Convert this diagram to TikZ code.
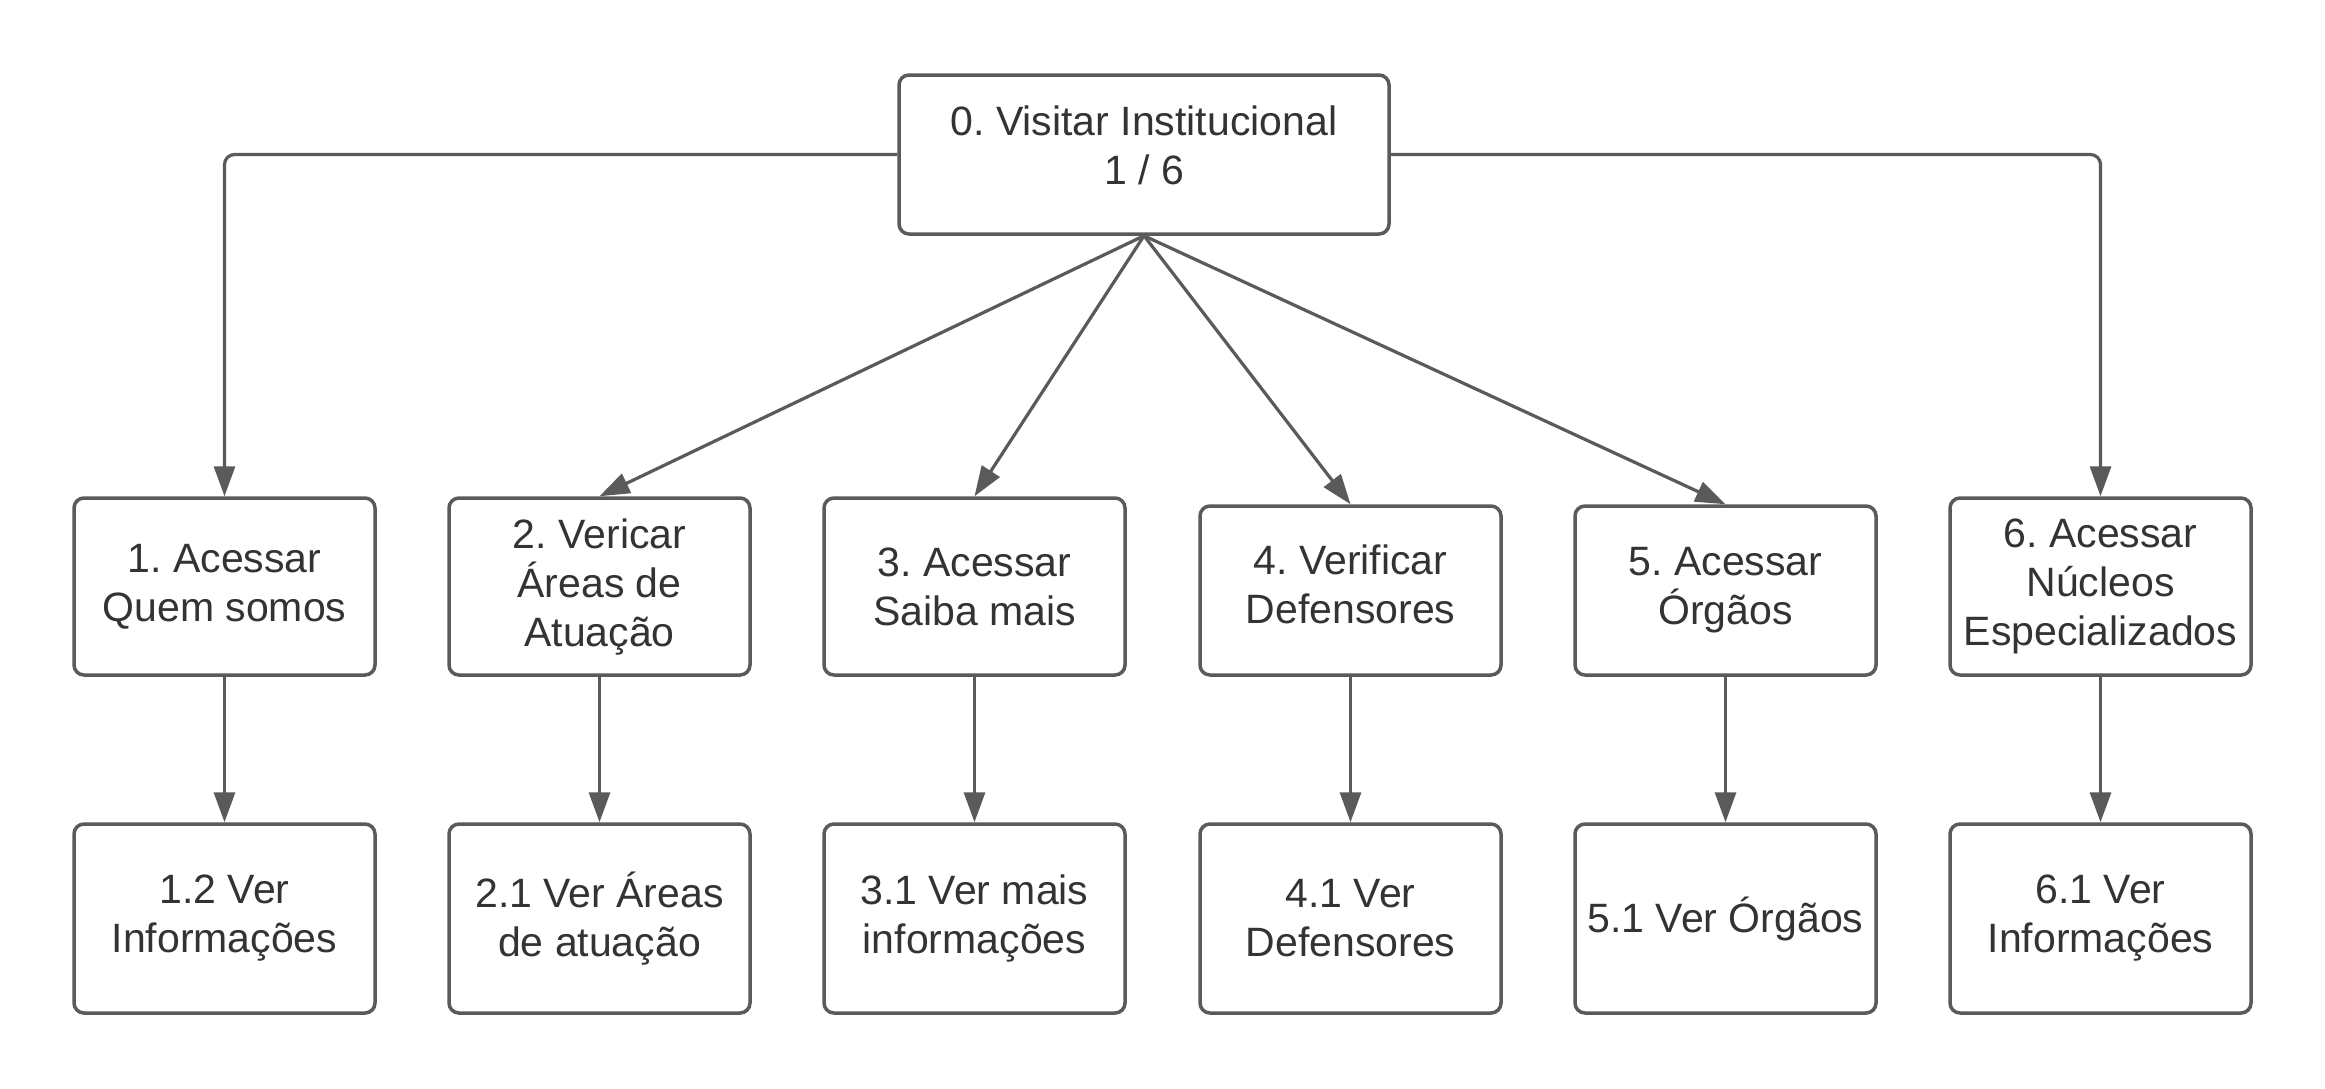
\documentclass[tikz,border=0pt]{standalone}
\usepackage{fontspec}
\setmainfont{Liberation Sans}
\frenchspacing
\usetikzlibrary{arrows.meta}
\definecolor{ln}{HTML}{5A5A5A}
\definecolor{tx}{HTML}{333333}
\begin{document}
\begin{tikzpicture}[x=1pt,y=-1pt,
  box/.style={draw=ln, line width=3.5pt, rounded corners=10pt, fill=white,
    minimum width=301pt, inner sep=0pt, align=center, text=tx,
    font=\fontsize{41}{49}\selectfont},
  lbl/.style={align=center, text=tx, inner sep=0pt, font=\fontsize{41}{49}\selectfont},
  arr/.style={draw=ln, line width=3.2pt, -{Triangle[length=30pt,width=21pt]}}]
\useasboundingbox[fill=white] (0,0) rectangle (2325,1088);
\node[box, minimum width=490pt, minimum height=159pt,
  label={[lbl, yshift=9pt]center:0. Visitar Institucional\\1 / 6}] (top) at (1144,154.5) {};
% row 1
\node[box, minimum height=177pt] (n1) at (224.5,586.5) {1. Acessar\\Quem somos};
\node[box, minimum height=177pt] (n2) at (599.5,586.5) {2. Vericar\\Áreas de\\Atuação};
\node[box, minimum height=177pt] (n3) at (974.5,586.5) {3. Acessar\\Saiba mais};
\node[box, minimum height=169pt,
  label={[lbl, yshift=6pt]center:4. Verificar\\Defensores}] (n4) at (1350.5,590.5) {};
\node[box, minimum height=169pt] (n5) at (1725.5,590.5) {5. Acessar\\Órgãos};
\node[box, minimum height=177pt] (n6) at (2100.5,586.5) {6. Acessar\\Núcleos\\Especializados};
% row 2
\node[box, minimum height=189pt] (m1) at (224.5,918.5) {1.2 Ver\\Informações};
\node[box, minimum height=189pt] (m2) at (599.5,918.5) {2.1 Ver Áreas\\de atuação};
\node[box, minimum height=189pt] (m3) at (974.5,918.5) {3.1 Ver mais\\informações};
\node[box, minimum height=189pt] (m4) at (1350.5,918.5) {4.1 Ver\\Defensores};
\node[box, minimum height=189pt] (m5) at (1725.5,918.5) {5.1 Ver Órgãos};
\node[box, minimum height=189pt] (m6) at (2100.5,918.5) {6.1 Ver\\Informações};
% connectors
\draw[arr, rounded corners=10pt] (top.west) -| (n1.north);
\draw[arr, rounded corners=10pt] (top.east) -| (n6.north);
\draw[arr] (top.south) -- (n2.north);
\draw[arr] (top.south) -- (n3.north);
\draw[arr] (top.south) -- (n4.north);
\draw[arr] (top.south) -- (n5.north);
\foreach \i in {1,...,6} {\draw[arr] (n\i.south) -- (m\i.north);}
\end{tikzpicture}
\end{document}
